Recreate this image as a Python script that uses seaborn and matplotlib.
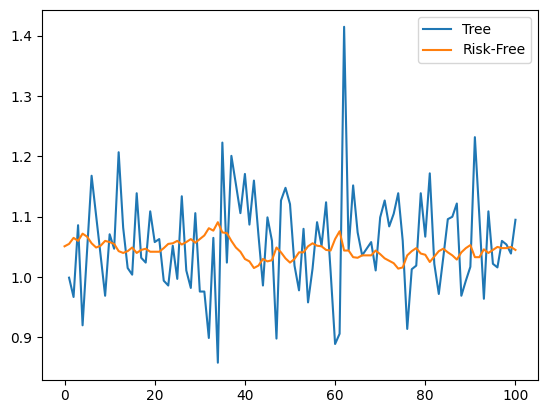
import numpy as np
import pandas as pd
import matplotlib
matplotlib.use("Agg")
import matplotlib.pyplot as plt
import seaborn as sns

tree_x = list(range(1, 101))
tree_y = [
    0.999, 0.967, 1.086, 0.920, 1.044, 1.168, 1.102, 1.036, 0.969, 1.071,
    1.047, 1.207, 1.082, 1.015, 1.004, 1.139, 1.032, 1.024, 1.109, 1.058,
    1.063, 0.994, 0.986, 1.052, 0.997, 1.134, 1.011, 0.982, 1.106, 0.976,
    0.976, 0.899, 1.065, 0.858, 1.223, 1.024, 1.201, 1.154, 1.106, 1.171,
    1.087, 1.160, 1.070, 0.986, 1.099, 1.060, 0.898, 1.127, 1.148, 1.121,
    1.019, 0.978, 1.080, 0.958, 1.014, 1.091, 1.052, 1.124, 1.010, 0.889,
    0.906, 1.415, 1.045, 1.152, 1.074, 1.036, 1.047, 1.058, 1.011, 1.099,
    1.127, 1.084, 1.105, 1.139, 1.060, 0.914, 1.013, 1.019, 1.139, 1.067,
    1.172, 1.022, 0.972, 1.033, 1.096, 1.100, 1.122, 0.969, 0.994, 1.017,
    1.232, 1.100, 0.964, 1.109, 1.022, 1.016, 1.060, 1.054, 1.039, 1.095,
]

rf_x = list(range(0, 101))
rf_y = [
    1.051, 1.055, 1.065, 1.060, 1.072, 1.067, 1.056, 1.049, 1.052, 1.060,
    1.058, 1.055, 1.043, 1.040, 1.043, 1.049, 1.040, 1.045, 1.047, 1.042,
    1.042, 1.042, 1.048, 1.055, 1.056, 1.060, 1.054, 1.058, 1.063, 1.057,
    1.063, 1.069, 1.081, 1.077, 1.091, 1.074, 1.073, 1.060, 1.049, 1.042,
    1.030, 1.026, 1.015, 1.019, 1.030, 1.026, 1.028, 1.049, 1.041, 1.031,
    1.024, 1.030, 1.041, 1.041, 1.051, 1.056, 1.052, 1.051, 1.045, 1.044,
    1.063, 1.076, 1.044, 1.044, 1.033, 1.032, 1.036, 1.036, 1.036, 1.044,
    1.038, 1.031, 1.027, 1.023, 1.014, 1.016, 1.036, 1.043, 1.048, 1.039,
    1.037, 1.025, 1.034, 1.043, 1.047, 1.041, 1.036, 1.029, 1.041, 1.048,
    1.053, 1.033, 1.033, 1.046, 1.040, 1.045, 1.050, 1.048, 1.048, 1.050,
    1.045,
]

df_tree = pd.DataFrame({"x": tree_x, "y": tree_y})
df_rf = pd.DataFrame({"x": rf_x, "y": rf_y})

fig = plt.figure(figsize=(5.47, 4.13), dpi=100)
ax = fig.add_axes([42 / 547, 1 - 379.5 / 413, (538 - 42) / 547, (379.5 - 10) / 413])
sns.lineplot(data=df_tree, x="x", y="y", ax=ax, color="#1f77b4", label="Tree", linewidth=1.5)
sns.lineplot(data=df_rf, x="x", y="y", ax=ax, color="#ff7f0e", label="Risk-Free", linewidth=1.5)
ax.set_xlabel("")
ax.set_ylabel("")
ax.set_xticks([0, 20, 40, 60, 80, 100])
ax.set_yticks([0.9, 1.0, 1.1, 1.2, 1.3, 1.4])
ax.legend(loc="upper right")
fig.savefig("out.png", dpi=100)
